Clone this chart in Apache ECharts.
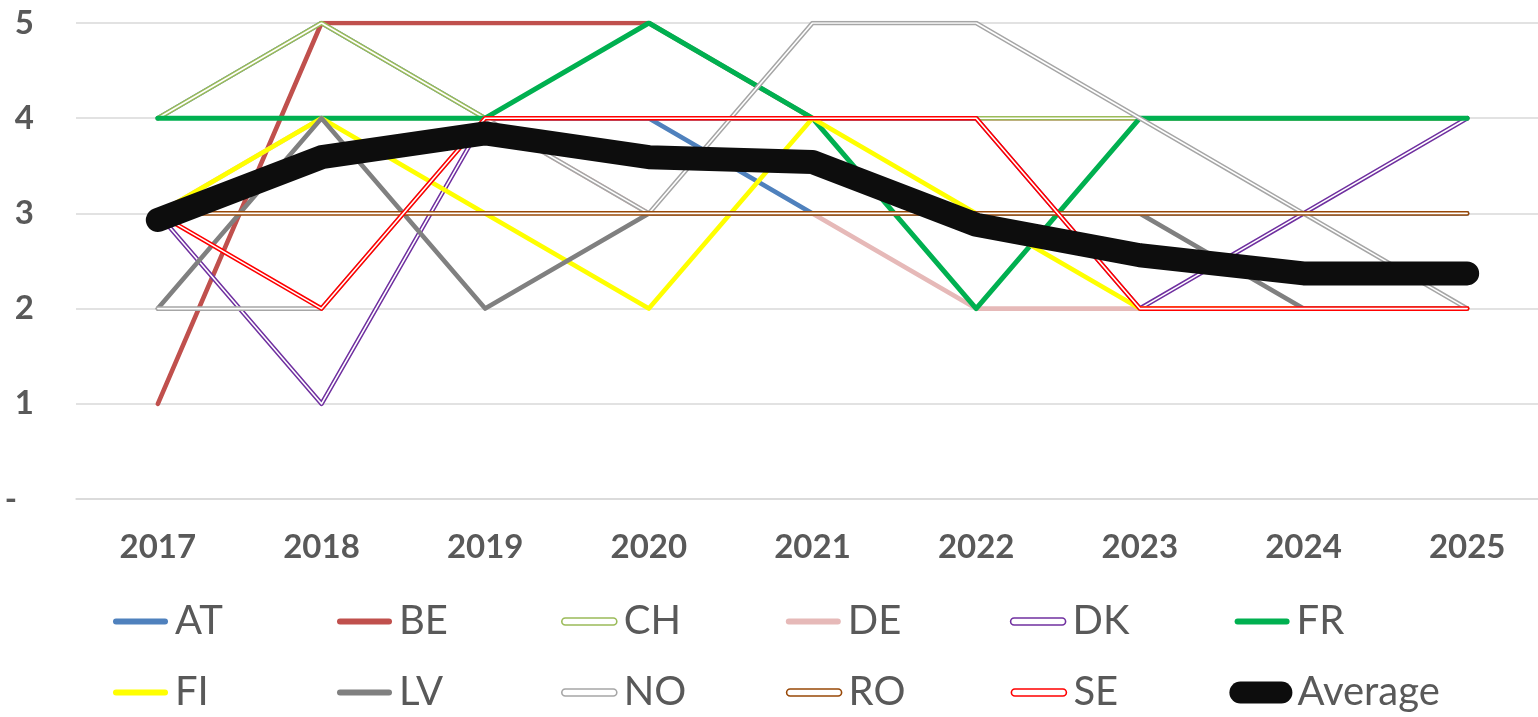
<!DOCTYPE html>
<html>
<head>
<meta charset="utf-8">
<script src="https://cdn.jsdelivr.net/npm/echarts@6/dist/echarts.min.js"></script>
<style>
  html, body { margin: 0; padding: 0; background: #fff; overflow: hidden; }
  /* the plot runs a little past the right edge of the picture */
  #chart { width: 1549px; height: 717px; }
</style>
</head>
<body>
<div id="chart"></div>
<script>
// categories
const years = ['2017', '2018', '2019', '2020', '2021', '2022', '2023', '2024', '2025'];

// series values (hidden stretches follow the line on top)
const AT = [4, 5, 4, 4, 3, 3, 3, 3, 3];
const BE = [1, 5, 5, 5, 4, 4, 4, 4, 4];
const CH = [4, 5, 4, 4, 4, 4, 4, 4, 4];
const DE = [3, 4, 4, 3, 3, 2, 2, 2, 2];
const DK = [3, 1, 4, 4, 4, 4, 2, 3, 4];
const FR = [4, 4, 4, 5, 4, 2, 4, 4, 4];
const FI = [3, 4, 3, 2, 4, 3, 2, 2, 2];
const LV = [2, 4, 2, 3, 3, 3, 3, 2, 2];
const NO = [2, 2, 4, 3, 5, 5, 4, 3, 2];
const RO = [3, 3, 3, 3, 3, 3, 3, 3, 3];
const SE = [3, 2, 4, 4, 4, 4, 2, 2, 2];
const Average = [2.93, 3.59, 3.84, 3.59, 3.54, 2.88, 2.56, 2.37, 2.37];

const TXT = '#595959';
const FONT = 'Lato, "Open Sans", sans-serif';

// legend icons, all drawn in the same -6..57 x 0..22 frame
const FRAME = 'M-6,0M57,22';
const thinIcon = 'path://' + FRAME + 'M3,8h49a3,3 0 0 1 0,6h-49a3,3 0 0 1 0,-6z';
const dblIcon = 'path://' + FRAME + 'M3.5,7.5h48a3.5,3.5 0 0 1 0,7h-48a3.5,3.5 0 0 1 0,-7z';
const pillIcon = 'path://' + FRAME + 'M5,0h41a11,11 0 0 1 0,22h-41a11,11 0 0 1 0,-22z';

const series = [];
const legendData = [];

function solid(name, data, color, width) {
  series.push({
    name: name, type: 'line', data: data, symbol: 'none',
    lineStyle: { color: color, width: width, cap: 'round', join: 'round' },
    itemStyle: { color: color },
    emphasis: { disabled: true }
  });
  legendData.push({
    name: name,
    icon: name === 'Average' ? pillIcon : thinIcon,
    itemStyle: { color: color, borderWidth: 0 }
  });
}

// Excel "double" compound line: coloured stroke with a white core
function double(name, data, color) {
  series.push({
    name: name, type: 'line', data: data, symbol: 'none',
    lineStyle: { color: color, width: 4.6, cap: 'round', join: 'round' },
    itemStyle: { color: color },
    emphasis: { disabled: true }
  });
  series.push({
    name: name + '_core', type: 'line', data: data, symbol: 'none',
    lineStyle: { color: '#ffffff', width: 1.6, cap: 'round', join: 'round' },
    itemStyle: { color: '#ffffff' },
    emphasis: { disabled: true }
  });
  legendData.push({
    name: name, icon: dblIcon,
    itemStyle: { color: '#ffffff', borderColor: color, borderWidth: 1.6 }
  });
}

solid('AT', AT, '#4F81BD', 4.6);
solid('BE', BE, '#C0504D', 4.6);
double('CH', CH, '#9BBB59');
solid('DE', DE, '#E6B9B8', 4.6);
double('DK', DK, '#7030A0');
solid('FR', FR, '#00B050', 5);
solid('FI', FI, '#FFFF00', 4.6);
solid('LV', LV, '#808080', 4.6);
double('NO', NO, '#A6A6A6');
double('RO', RO, '#984807');
double('SE', SE, '#FF0000');
solid('Average', Average, '#0D0D0D', 24);

const chart = echarts.init(document.getElementById('chart'));

const option = {
  animation: false,
  backgroundColor: '#ffffff',
  grid: { left: 76, right: 0, top: 23, bottom: 218, containLabel: false },
  xAxis: {
    type: 'category',
    data: years,
    boundaryGap: true,
    axisLine: { show: true, lineStyle: { color: '#d9d9d9', width: 1.5 } },
    axisTick: { show: false },
    axisLabel: { margin: 32, color: TXT, fontFamily: FONT, fontWeight: 'bold', fontSize: 33 }
  },
  yAxis: {
    type: 'value',
    min: 0, max: 5, interval: 1,
    axisLine: { show: false },
    axisTick: { show: false },
    splitLine: { lineStyle: { color: '#d9d9d9', width: 1.5 } },
    axisLabel: {
      margin: 42, color: TXT, fontFamily: FONT, fontWeight: 'bold', fontSize: 33,
      formatter: function (v) { return v === 0 ? '{d|-}' : String(v); },
      rich: { d: { color: TXT, fontFamily: FONT, fontWeight: 'bold', fontSize: 33, padding: [0, 17, 0, 0] } }
    }
  },
  legend: {
    data: legendData,
    left: 107, top: 589, width: 1400,
    padding: 0,
    itemWidth: 63, itemHeight: 22, itemGap: 6,
    textStyle: { color: TXT, fontFamily: FONT, fontSize: 40, lineHeight: 65, width: 150 },
    selectedMode: false
  },
  series: series
};

chart.setOption(option);
</script>
</body>
</html>
